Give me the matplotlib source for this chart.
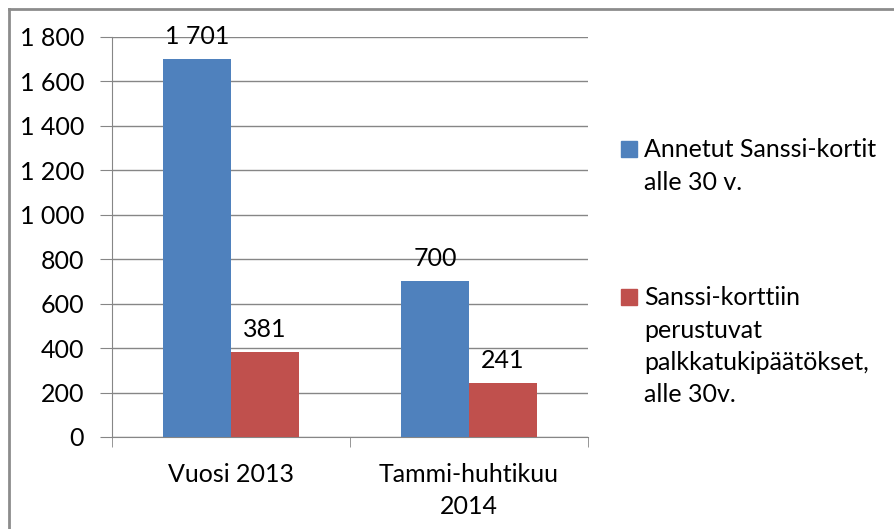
import matplotlib
matplotlib.use("Agg")
import matplotlib.pyplot as plt
from matplotlib.patches import Rectangle
from matplotlib.lines import Line2D
from matplotlib.ticker import FuncFormatter
import numpy as np

categories = ["Vuosi 2013", "Tammi-huhtikuu\n2014"]
series_names = ["Annetut Sanssi-kortit\nalle 30 v.",
                "Sanssi-korttiin\nperustuvat\npalkkatukipäätökset,\nalle 30v."]
series_values = [[1701, 700], [381, 241]]
colors = ["#4F81BD", "#C0504D"]
yticks = [0, 200, 400, 600, 800, 1000, 1200, 1400, 1600, 1800]

plt.rcParams['font.family'] = ['Lato', 'DejaVu Sans']
W, H = 895, 529
FS = 18
fig = plt.figure(figsize=(W/100, H/100), dpi=100)
ax = fig.add_axes([112/W, 1-437/H, (588-112)/W, (437-37)/H])

grey = "#868686"
x = np.arange(len(categories))
bw = 1/3.5
for i, (vals, c) in enumerate(zip(series_values, colors)):
    pos = x + (i - 0.5) * bw
    ax.bar(pos, vals, width=bw, color=c, zorder=3)
    for p, v in zip(pos, vals):
        ax.annotate(f"{v:,}".replace(",", " "), (p, v), xytext=(0, 8),
                    textcoords="offset points", ha="center", va="bottom",
                    fontsize=FS, zorder=4)

ax.set_xlim(-0.5, len(categories) - 0.5)
ax.set_ylim(0, 1800)
ax.set_yticks(yticks)
ax.yaxis.set_major_formatter(FuncFormatter(lambda v, _: f"{int(v):,}".replace(",", " ")))
ax.set_xticks(x)
ax.set_xticklabels(categories, fontsize=FS, linespacing=1.47)
ax.set_xticks(np.arange(len(categories) + 1) - 0.5, minor=True)
ax.tick_params(axis="x", which="major", length=0, pad=19)
ax.tick_params(axis="x", which="minor", length=7, color=grey, direction="out")
ax.tick_params(axis="y", length=9, color=grey, labelsize=FS, pad=11)
ax.grid(axis="y", color=grey, linewidth=1, zorder=0)
for s in ["top", "right"]:
    ax.spines[s].set_visible(False)
for s in ["left", "bottom"]:
    ax.spines[s].set_color(grey)

# legend drawn manually in figure pixel coordinates
leg_y = [149, 297]
for name, c, yc in zip(series_names, colors, leg_y):
    fig.add_artist(Rectangle((621/W, 1-(yc+8)/H), 16/W, 16/H,
                             transform=fig.transFigure, color=c))
    fig.text(644/W, 1-(yc-11)/H, name, fontsize=FS, va="top", ha="left",
             linespacing=1.5)

# outer border (top and left visible)
fig.add_artist(Line2D([9/W, 9/W], [0, 1-9/H], transform=fig.transFigure,
                      color="#8c8c8c", linewidth=2))
fig.add_artist(Line2D([9/W, 1], [1-9/H, 1-9/H], transform=fig.transFigure,
                      color="#8c8c8c", linewidth=2))

fig.savefig("out.png", dpi=100)
